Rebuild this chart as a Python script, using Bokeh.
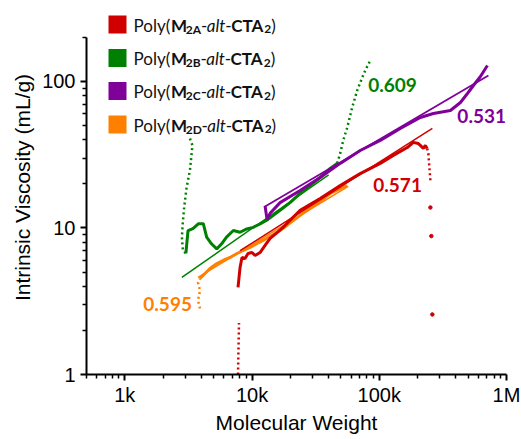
import numpy as np
from bokeh.plotting import figure
from bokeh.models import Range1d, FixedTicker, Label
from bokeh.embed import file_html
from bokeh.resources import INLINE

# ---------------- data (molecular weight, intrinsic viscosity mL/g) ----------------
# Poly(M2A-alt-CTA2)  (red)
a_low_mw = [7760, 7800, 7850, 7900]
a_low_iv = [1.0, 1.3, 1.7, 2.25]
a_mw = [7760, 8050, 8340, 8810, 9300, 10000, 10570, 11560, 12660, 13870, 15730, 17540,
        19900, 23870, 34300, 49300, 70800, 101800, 128900, 166000, 185200, 202800,
        210300, 222000, 230100, 238000]
a_iv = [3.93, 5.37, 6.29, 6.19, 6.70, 6.80, 6.49, 6.80, 7.60, 8.48, 9.31, 10.1,
        11.3, 13.2, 15.9, 19.5, 23.5, 27.6, 31.3, 35.4, 38.4, 37.7,
        36.6, 34.9, 36.6, 34.9]
a_tail_mw = [238000, 243100, 247600, 252300]
a_tail_iv = [34.9, 32.3, 25.9, 21.1]
a_drop_mw = [252300, 256600, 261300]
a_drop_iv = [13.8, 8.8, 2.57]
a_fit_mw = [8050, 261300]
a_fit_iv = [7.0, 47.8]

# Poly(M2B-alt-CTA2)  (green)
b_low_mw = [3250, 3400, 3250, 3060, 2930, 2850, 2810, 2860, 3020]
b_low_iv = [40.8, 36.6, 24.7, 18.9, 13.9, 10.6, 8.65, 7.02, 6.7]
b_mw = [3020, 3140, 3430, 3800, 4140, 4400, 4800, 5280, 5770, 6300, 7130, 8050, 9100,
        10200, 11560, 13050, 14700, 16610, 19900, 23870, 28640, 34300, 41130, 46700]
b_iv = [6.7, 9.6, 9.9, 10.7, 10.7, 8.66, 7.8, 7.2, 7.8, 8.66, 9.61, 9.35, 9.85,
        10.1, 10.65, 11.3, 12.2, 13.2, 14.9, 17.2, 19.5, 22.1, 25.5, 27.6]
b_up_mw = [46700, 49300, 52100, 56000, 61240, 67100, 73500, 77600, 84900]
b_up_iv = [27.6, 32.3, 39.6, 48.5, 66.5, 86.9, 106.4, 118.9, 139.0]
b_fit_mw = [2810, 40000]
b_fit_iv = [4.6, 23.0]

# Poly(M2C-alt-CTA2)  (purple)
c_mw = [12655, 13122, 13868, 16610, 23870, 34300, 49300, 70800, 101800, 146300,
        210300, 266100, 362200, 434500, 493200, 549600, 623700, 707900]
c_iv = [14.2, 11.4, 12.6, 14.9, 18.0, 22.1, 27.6, 33.8, 39.6, 47.8,
        56.8, 60.5, 63.4, 71.9, 82.8, 93.9, 108.2, 128.6]
c_fit_mw = [12655, 721000]
c_fit_iv = [14.0, 110.0]

# Poly(M2D-alt-CTA2)  (orange)
d_low_mw = [3900, 3760, 3900, 3760, 3900]
d_low_iv = [2.82, 3.2, 3.74, 4.25, 4.52]
d_mw = [3900, 4270, 4670, 5300, 5910, 6710, 7620, 8490, 9650, 10950, 12210, 16610,
        23870, 34300, 41130, 56000]
d_iv = [4.52, 4.89, 5.29, 5.72, 6.0, 6.29, 6.70, 7.02, 7.36, 7.84, 8.22, 9.61,
        12.2, 15.2, 17.2, 19.5]
d_fit_mw = [3760, 57000]
d_fit_iv = [4.6, 19.2]

series_subs = ["2A", "2B", "2C", "2D"]
exponents = ["0.571", "0.609", "0.531", "0.595"]
x_ticks = [1e3, 1e4, 1e5, 1e6]
x_tick_labels = ["1k", "10k", "100k", "1M"]
y_ticks = [1, 10, 100]
y_tick_labels = ["1", "10", "100"]
x_title = "Molecular Weight"
y_title = "Intrinsic Viscosity (mL/g)"

# ---------------- style ----------------
RED, GREEN, PURPLE, ORANGE = "#D00000", "#008000", "#80009A", "#FF8000"
colors = [RED, GREEN, PURPLE, ORANGE]

XMIN, XMAX = 500, 1e6
YMIN, YMAX = 1, 357
# frame position inside the canvas (px)
FL, FR, FT, FB = 86, 506, 0, 374
W, H = 521, 439


def px_x(px):
    return 10 ** (np.log10(XMIN) + (px - FL) / (FR - FL) * (np.log10(XMAX) - np.log10(XMIN)))


def px_y(py):
    return 10 ** (np.log10(YMIN) + (FB - py) / (FB - FT) * (np.log10(YMAX) - np.log10(YMIN)))


p = figure(frame_width=FR - FL, frame_height=FB - FT, x_axis_type="log", y_axis_type="log",
           x_range=Range1d(XMIN, XMAX), y_range=Range1d(YMIN, YMAX),
           output_backend="svg", toolbar_location=None, title=None,
           min_border_left=FL, min_border_right=W - FR,
           min_border_top=FT, min_border_bottom=H - FB)
p.outline_line_color = None
p.xgrid.visible = False
p.ygrid.visible = False
p.background_fill_color = "white"

# axes
minor_x = [m * 10 ** e for e in range(2, 6) for m in range(2, 10) if m * 10 ** e >= 500]
minor_y = [m * 10 ** e for e in range(0, 3) for m in range(2, 10) if m * 10 ** e <= 200]
p.xaxis.ticker = FixedTicker(ticks=x_ticks, minor_ticks=minor_x)
p.yaxis.ticker = FixedTicker(ticks=y_ticks, minor_ticks=minor_y)
p.xaxis.major_label_overrides = {t: l for t, l in zip(x_ticks, x_tick_labels)}
p.yaxis.major_label_overrides = {t: l for t, l in zip(y_ticks, y_tick_labels)}
p.xaxis.bounds = (XMIN, XMAX)
p.yaxis.bounds = (1, 200)
for ax in (p.xaxis, p.yaxis):
    ax.axis_line_width = 2
    ax.axis_line_color = "black"
    ax.major_tick_line_width = 2
    ax.minor_tick_line_width = 1.5
    ax.major_tick_in = 0
    ax.major_tick_out = 6
    ax.minor_tick_in = 0
    ax.minor_tick_out = 4
    ax.major_label_text_font = "Liberation Sans"
    ax.major_label_text_font_size = "20px"
    ax.major_label_text_color = "black"
    ax.axis_label_text_font = "Liberation Sans"
    ax.axis_label_text_font_size = "21px"
    ax.axis_label_text_font_style = "normal"
    ax.axis_label_text_color = "black"
p.xaxis.axis_label = x_title
p.yaxis.axis_label = y_title
p.xaxis.major_label_standoff = 3
p.xaxis.axis_label_standoff = 2
p.yaxis.major_label_standoff = 5
p.yaxis.axis_label_standoff = 5

DOT = "2 3"
# orange
p.line(d_low_mw, d_low_iv, color=ORANGE, line_width=2.5, line_dash=DOT)
p.line(d_mw, d_iv, color=ORANGE, line_width=3)
p.line(d_fit_mw, d_fit_iv, color=ORANGE, line_width=1.5)
# red
p.line(a_low_mw, a_low_iv, color=RED, line_width=2.5, line_dash=DOT)
p.line(a_mw, a_iv, color=RED, line_width=3)
p.line(a_tail_mw, a_tail_iv, color=RED, line_width=2.5, line_dash=DOT)
p.scatter(a_drop_mw, a_drop_iv, color=RED, size=3.5)
p.line(a_fit_mw, a_fit_iv, color=RED, line_width=1.5)
# green
p.line(b_low_mw, b_low_iv, color=GREEN, line_width=2.5, line_dash=DOT)
p.line(b_mw, b_iv, color=GREEN, line_width=3)
p.line(b_up_mw, b_up_iv, color=GREEN, line_width=2.5, line_dash=DOT)
p.line(b_fit_mw, b_fit_iv, color=GREEN, line_width=1.5)
# purple
p.line(c_mw, c_iv, color=PURPLE, line_width=3)
p.line(c_fit_mw, c_fit_iv, color=PURPLE, line_width=1.8)

# exponent labels (anchored near the fitted lines)
exp_x = [89800, 81800, 411000, 3370]
exp_y = [19.8, 93.9, 57.7, 3.05]
exp_align = ["left", "left", "left", "right"]
for t, xx, yy, al, c in zip(exponents, exp_x, exp_y, exp_align, colors):
    p.add_layout(Label(x=xx, y=yy, text=t, text_color=c, text_font="Lato",
                       text_font_style="bold", text_font_size="19px",
                       text_align=al, text_baseline="middle"))

# legend: coloured squares + composed rich text
row_py = [24, 57.5, 90.5, 124]
p.scatter([px_x(117)] * 4, [px_y(r) for r in row_py], marker="square", size=18,
          color=colors, line_color=None)

EM = {"P": .60, "o": .56, "l": .24, "y": .50, "(": .30, ")": .30, "-": .34,
      "a": .50, "t": .35, "M": .87, "C": .67, "T": .58, "A": .70, "B": .65,
      "D": .73, "2": .58}


def width(s, size):
    return sum(EM.get(ch, .55) for ch in s) * size


for sub, r in zip(series_subs, row_py):
    pieces = [("Poly(", "normal", 17, 0), ("M", "bold", 17, 0), (sub, "bold", 12, 4),
              ("-", "normal", 17, 0), ("alt", "italic", 17, 0), ("-", "normal", 17, 0),
              ("CTA", "bold", 17, 0), ("2", "bold", 12, 4), (")", "normal", 17, 0)]
    cx = 133
    base = r + 0.5
    for txt, style, size, drop in pieces:
        p.add_layout(Label(x=px_x(cx), y=px_y(base + drop), text=txt, text_color="#111111",
                           text_font="Lato", text_font_style=style,
                           text_font_size=f"{size}px", text_align="left",
                           text_baseline="alphabetic"))
        cx += width(txt, size)

open("out.html", "w").write(file_html(p, INLINE))
